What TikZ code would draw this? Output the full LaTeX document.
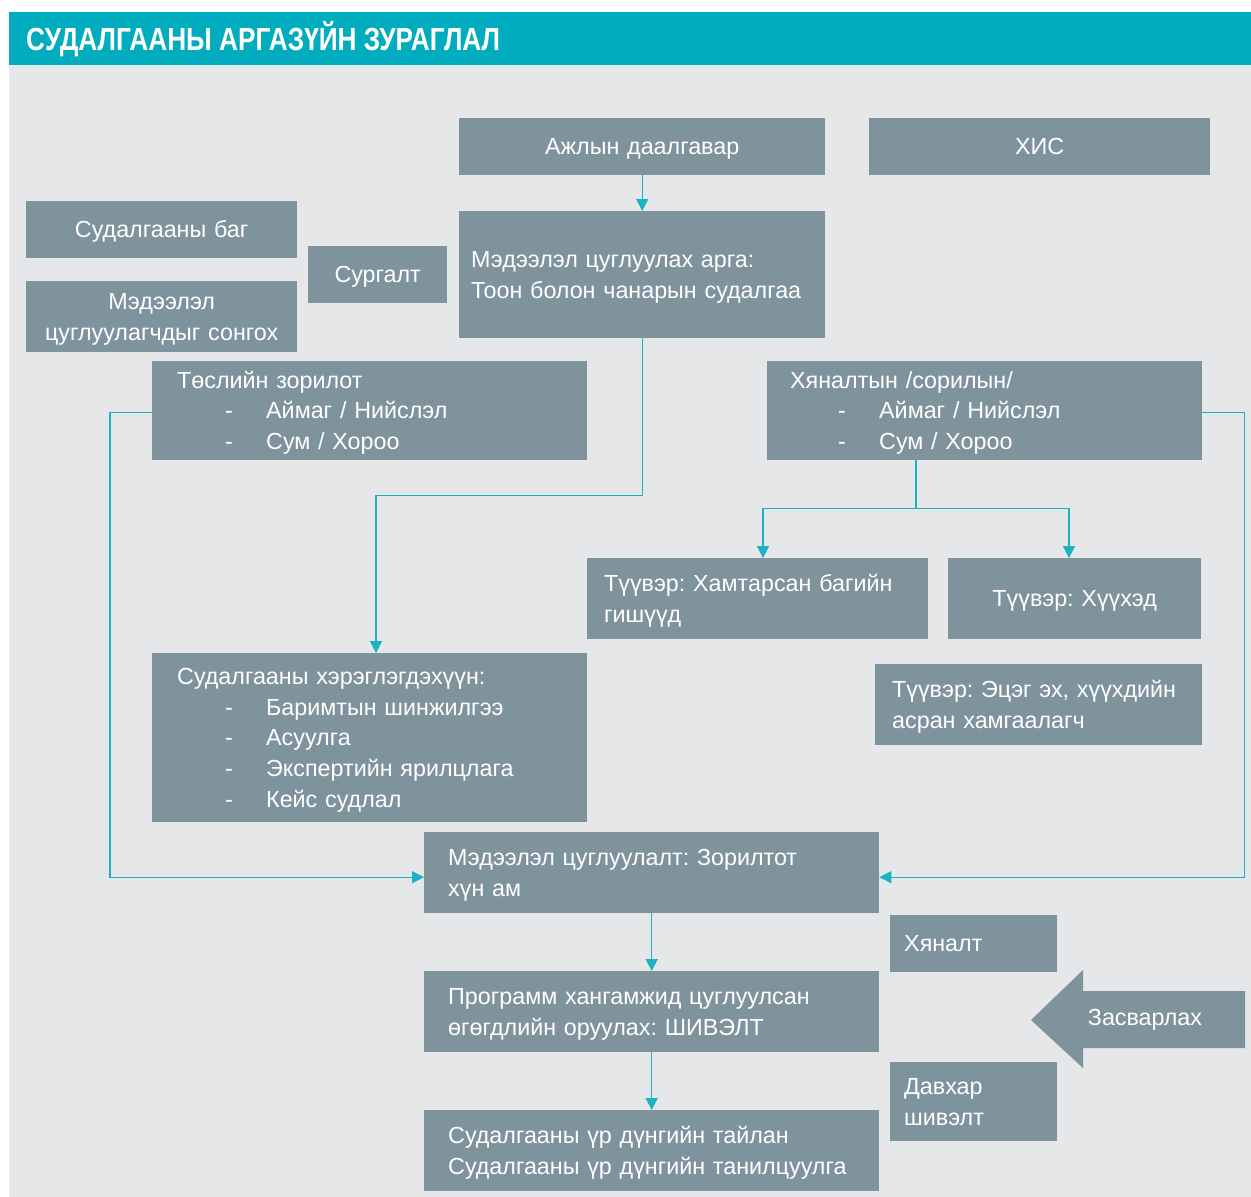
\documentclass[tikz,border=0pt]{standalone}
\usepackage{fontspec}
\setmainfont{Liberation Sans}
\newfontfamily\headfont[FakeStretch=0.82]{Liberation Sans}
\usetikzlibrary{arrows.meta}
\definecolor{boxGray}{HTML}{7F939D}
\definecolor{paneGray}{HTML}{E6E7E9}
\definecolor{headTeal}{HTML}{00ACBD}
\definecolor{lineTeal}{HTML}{1AB3C4}
\frenchspacing
\newcommand{\dashitem}[1]{\\\makebox[89pt][l]{\hspace*{48pt}-}#1}
\newcommand{\boxstrut}{\rule[-7pt]{0pt}{30pt}}

\begin{document}
\begin{tikzpicture}
[x=1pt,y=-1pt,
  boxDecorate/.style={fill=boxGray,text=white,inner sep=0pt,anchor=north west,
    font=\fontsize{23.3}{30.7}\selectfont,
    execute at begin node=\boxstrut,execute at end node=\boxstrut},
  leftDecorate/.style={boxDecorate,align=left,inner xsep=#1},
  lineDecorate/.style={draw=lineTeal,line width=1.4pt},
  arrowDecorate/.style={lineDecorate,-{Triangle[length=12pt,width=12pt]}}]
%%
%%%%%%%%%%%%%%%%%%%%%%%%%%%%%%%%%%%%%%%%%%%%%%%%%%%%%%%%%%%%%%%%%%%%%%%%%%%
%%
%% page, title bar and pane
\useasboundingbox (0,0) rectangle (1251,1197);
\fill[white] (0,0) rectangle (1251,1197);
\fill[paneGray] (9,65) rectangle (1251,1197);
\fill[headTeal] (9,12) rectangle (1251,65);
\node (title) at (26,39) [anchor=west,inner sep=0pt,text=white,
  font=\headfont\bfseries\fontsize{32}{36}\selectfont] {СУДАЛГААНЫ АРГАЗҮЙН ЗУРАГЛАЛ};
%%
%%%%%%%%%%%%%%%%%%%%%%%%%%%%%%%%%%%%%%%%%%%%%%%%%%%%%%%%%%%%%%%%%%%%%%%%%%%
%%
%% centred boxes
\foreach \nodename/\x/\y/\w/\h/\txt in {
  task/459/118/366/57/{Ажлын даалгавар},
  khis/869/118/341/57/{ХИС},
  bag/26/201/271/57/{Судалгааны баг},
  surgalt/308/246/139/57/{Сургалт},
  songoh/26/281/271/71/{Мэдээлэл\\цуглуулагчдыг сонгох},
  khuukhed/948/558/253/81/{Түүвэр: Хүүхэд}}
{
  \node (\nodename) at (\x,\y) [boxDecorate,align=center,
    text width=\w,minimum height=\h] {\txt};
}
%% left aligned boxes
\node (arga) at (459,211) [leftDecorate=12pt,text width=342pt,minimum height=127]
  {Мэдээлэл цуглуулах арга:\\Тоон болон чанарын судалгаа};
\node (tosol) at (152,361) [leftDecorate=25pt,text width=385pt,minimum height=99]
  {Төслийн зорилот\dashitem{Аймаг / Нийслэл}\dashitem{Сум / Хороо}};
\node (khyanalt) at (767,361) [leftDecorate=23pt,text width=389pt,minimum height=99]
  {Хяналтын /сорилын/\dashitem{Аймаг / Нийслэл}\dashitem{Сум / Хороо}};
\node (khamtarsan) at (587,558) [leftDecorate=17pt,text width=307pt,minimum height=81]
  {Түүвэр: Хамтарсан багийн\\гишүүд};
\node (etseg) at (875,664) [leftDecorate=17pt,text width=293pt,minimum height=81]
  {Түүвэр: Эцэг эх, хүүхдийн\\асран хамгаалагч};
\node (hereg) at (152,653) [leftDecorate=25pt,text width=385pt,minimum height=169]
  {Судалгааны хэрэглэгдэхүүн:\dashitem{Баримтын шинжилгээ}\dashitem{Асуулга}%
   \dashitem{Экспертийн ярилцлага}\dashitem{Кейс судлал}};
\node (tsugluulalt) at (424,832) [leftDecorate=24pt,text width=407pt,minimum height=81]
  {Мэдээлэл цуглуулалт: Зорилтот\\хүн ам};
\node (khyanalt2) at (890,915) [leftDecorate=14pt,text width=139pt,minimum height=57]
  {Хяналт};
\node (program) at (424,971) [leftDecorate=24pt,text width=407pt,minimum height=81]
  {Программ хангамжид цуглуулсан\\өгөгдлийн оруулах: ШИВЭЛТ};
\node (davkhar) at (890,1062) [leftDecorate=14pt,text width=139pt,minimum height=79]
  {Давхар\\шивэлт};
\node (tailan) at (424,1110) [leftDecorate=24pt,text width=407pt,minimum height=81]
  {Судалгааны үр дүнгийн тайлан\\Судалгааны үр дүнгийн танилцуулга};
%%
%%%%%%%%%%%%%%%%%%%%%%%%%%%%%%%%%%%%%%%%%%%%%%%%%%%%%%%%%%%%%%%%%%%%%%%%%%%
%%
%% correction arrow
\fill[boxGray] (1031,1020) -- (1083,970) -- (1083,991) -- (1245,991)
  -- (1245,1048) -- (1083,1048) -- (1083,1068) -- cycle;
\node (zasvar) at (1145,1020) [text=white,inner sep=0pt,
  font=\fontsize{23.3}{30.7}\selectfont] {Засварлах};
%%
%%%%%%%%%%%%%%%%%%%%%%%%%%%%%%%%%%%%%%%%%%%%%%%%%%%%%%%%%%%%%%%%%%%%%%%%%%%
%%
%% connectors
\path
\foreach \startnode/\endnode in {
  task/arga, tsugluulalt/program, program/tailan}
{
  (\startnode.south) edge[arrowDecorate] (\endnode.north)
};
\draw[arrowDecorate] (arga.south) -- ++(0,157) -| ([xshift=224pt]hereg.north west);
\draw[arrowDecorate] ([yshift=-1.5pt]tosol.west) -- ++(-42,0)
  |- ([yshift=-4.5pt]tsugluulalt.west);
\draw[arrowDecorate] ([yshift=-1.5pt]khyanalt.east) -- ++(42,0)
  |- ([yshift=-4.5pt]tsugluulalt.east);
\draw[lineDecorate] ([xshift=149pt]khyanalt.south west) -- ++(0,48) coordinate (split);
\draw[arrowDecorate] (split) -| ([xshift=176pt]khamtarsan.north west);
\draw[arrowDecorate] (split) -| ([xshift=121pt]khuukhed.north west);
\end{tikzpicture}
\end{document}
